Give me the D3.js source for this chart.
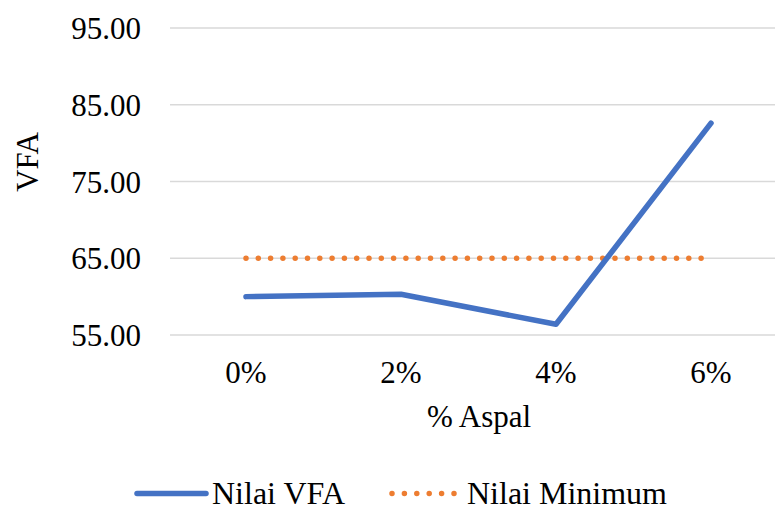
<!DOCTYPE html>
<html><head><meta charset="utf-8">
<script src="https://cdn.jsdelivr.net/npm/d3@7"></script>
<style>html,body{margin:0;padding:0;background:#fff;} svg text{font-family:"Liberation Serif",Tinos,"Times New Roman",serif !important;}</style>
</head><body>
<svg id="c" width="775" height="506"></svg>
<script>
const categories = ["0%", "2%", "4%", "6%"];
const nilaiVFA = [60.0, 60.3, 56.4, 82.6];
const nilaiMinimum = [65, 65, 65, 65];
const yTicks = [55, 65, 75, 85, 95];
const seriesNames = ["Nilai VFA", "Nilai Minimum"];

const FONT = "Liberation Serif";
const FS = 31;
const FSL = 32;
const svg = d3.select("#c");
const x = d3.scaleBand().domain(categories).range([168.5, 788.5]).padding(0);
const y = d3.scaleLinear().domain([55, 95]).range([335, 28]);
const cx = d => x(d) + x.bandwidth() / 2;

function styleText(sel, fs) {
  return sel.attr("font-family", FONT).attr("font-size", fs || FS).attr("fill", "#000");
}

// gridlines
svg.append("g").selectAll("line").data(yTicks).join("line")
  .attr("x1", 170).attr("x2", 775)
  .attr("y1", d => y(d)).attr("y2", d => y(d))
  .attr("stroke", "#d9d9d9").attr("stroke-width", 1.5);

// y axis labels
const yAxis = d3.axisLeft(y).tickValues(yTicks).tickFormat(d3.format(".2f")).tickSize(0).tickPadding(0);
const ya = svg.append("g").attr("transform", "translate(141,0)").call(yAxis);
ya.attr("font-family", null).attr("font-size", null);
ya.select(".domain").remove();
styleText(ya.selectAll("text")).attr("dy", "0.34em");

// x axis labels
const xAxis = d3.axisBottom(x).tickSize(0).tickPadding(0);
const xa = svg.append("g").attr("transform", "translate(0,361)").call(xAxis);
xa.attr("font-family", null).attr("font-size", null);
xa.select(".domain").remove();
styleText(xa.selectAll("text")).attr("dy", "0.71em");

// axis titles
styleText(svg.append("text").attr("x", 479).attr("y", 427).attr("text-anchor", "middle")).text("% Aspal");
styleText(svg.append("text").attr("transform", "translate(38,162) rotate(-90)").attr("text-anchor", "middle")).text("VFA");

const line = d3.line().x((d, i) => cx(categories[i])).y(d => y(d));

// Minimum line (dotted)
svg.append("path").datum(nilaiMinimum).attr("d", line)
  .attr("fill", "none").attr("stroke", "#ED7D31").attr("stroke-width", 5.5)
  .attr("stroke-linecap", "round").attr("stroke-dasharray", "0,12.3");

// VFA line
svg.append("path").datum(nilaiVFA).attr("d", line)
  .attr("fill", "none").attr("stroke", "#4472C4").attr("stroke-width", 5.5)
  .attr("stroke-linecap", "round").attr("stroke-linejoin", "round");

// legend
const lg = svg.append("g");
lg.append("line").attr("x1", 137).attr("x2", 206).attr("y1", 493.5).attr("y2", 493.5)
  .attr("stroke", "#4472C4").attr("stroke-width", 5.5).attr("stroke-linecap", "round");
styleText(lg.append("text").attr("x", 212).attr("y", 504), FSL).text(seriesNames[0]);
lg.append("line").attr("x1", 392).attr("x2", 455).attr("y1", 493.5).attr("y2", 493.5)
  .attr("stroke", "#ED7D31").attr("stroke-width", 5.5).attr("stroke-linecap", "round").attr("stroke-dasharray", "0,12.4");
styleText(lg.append("text").attr("x", 467).attr("y", 504), FSL).text(seriesNames[1]);
</script>
</body></html>
